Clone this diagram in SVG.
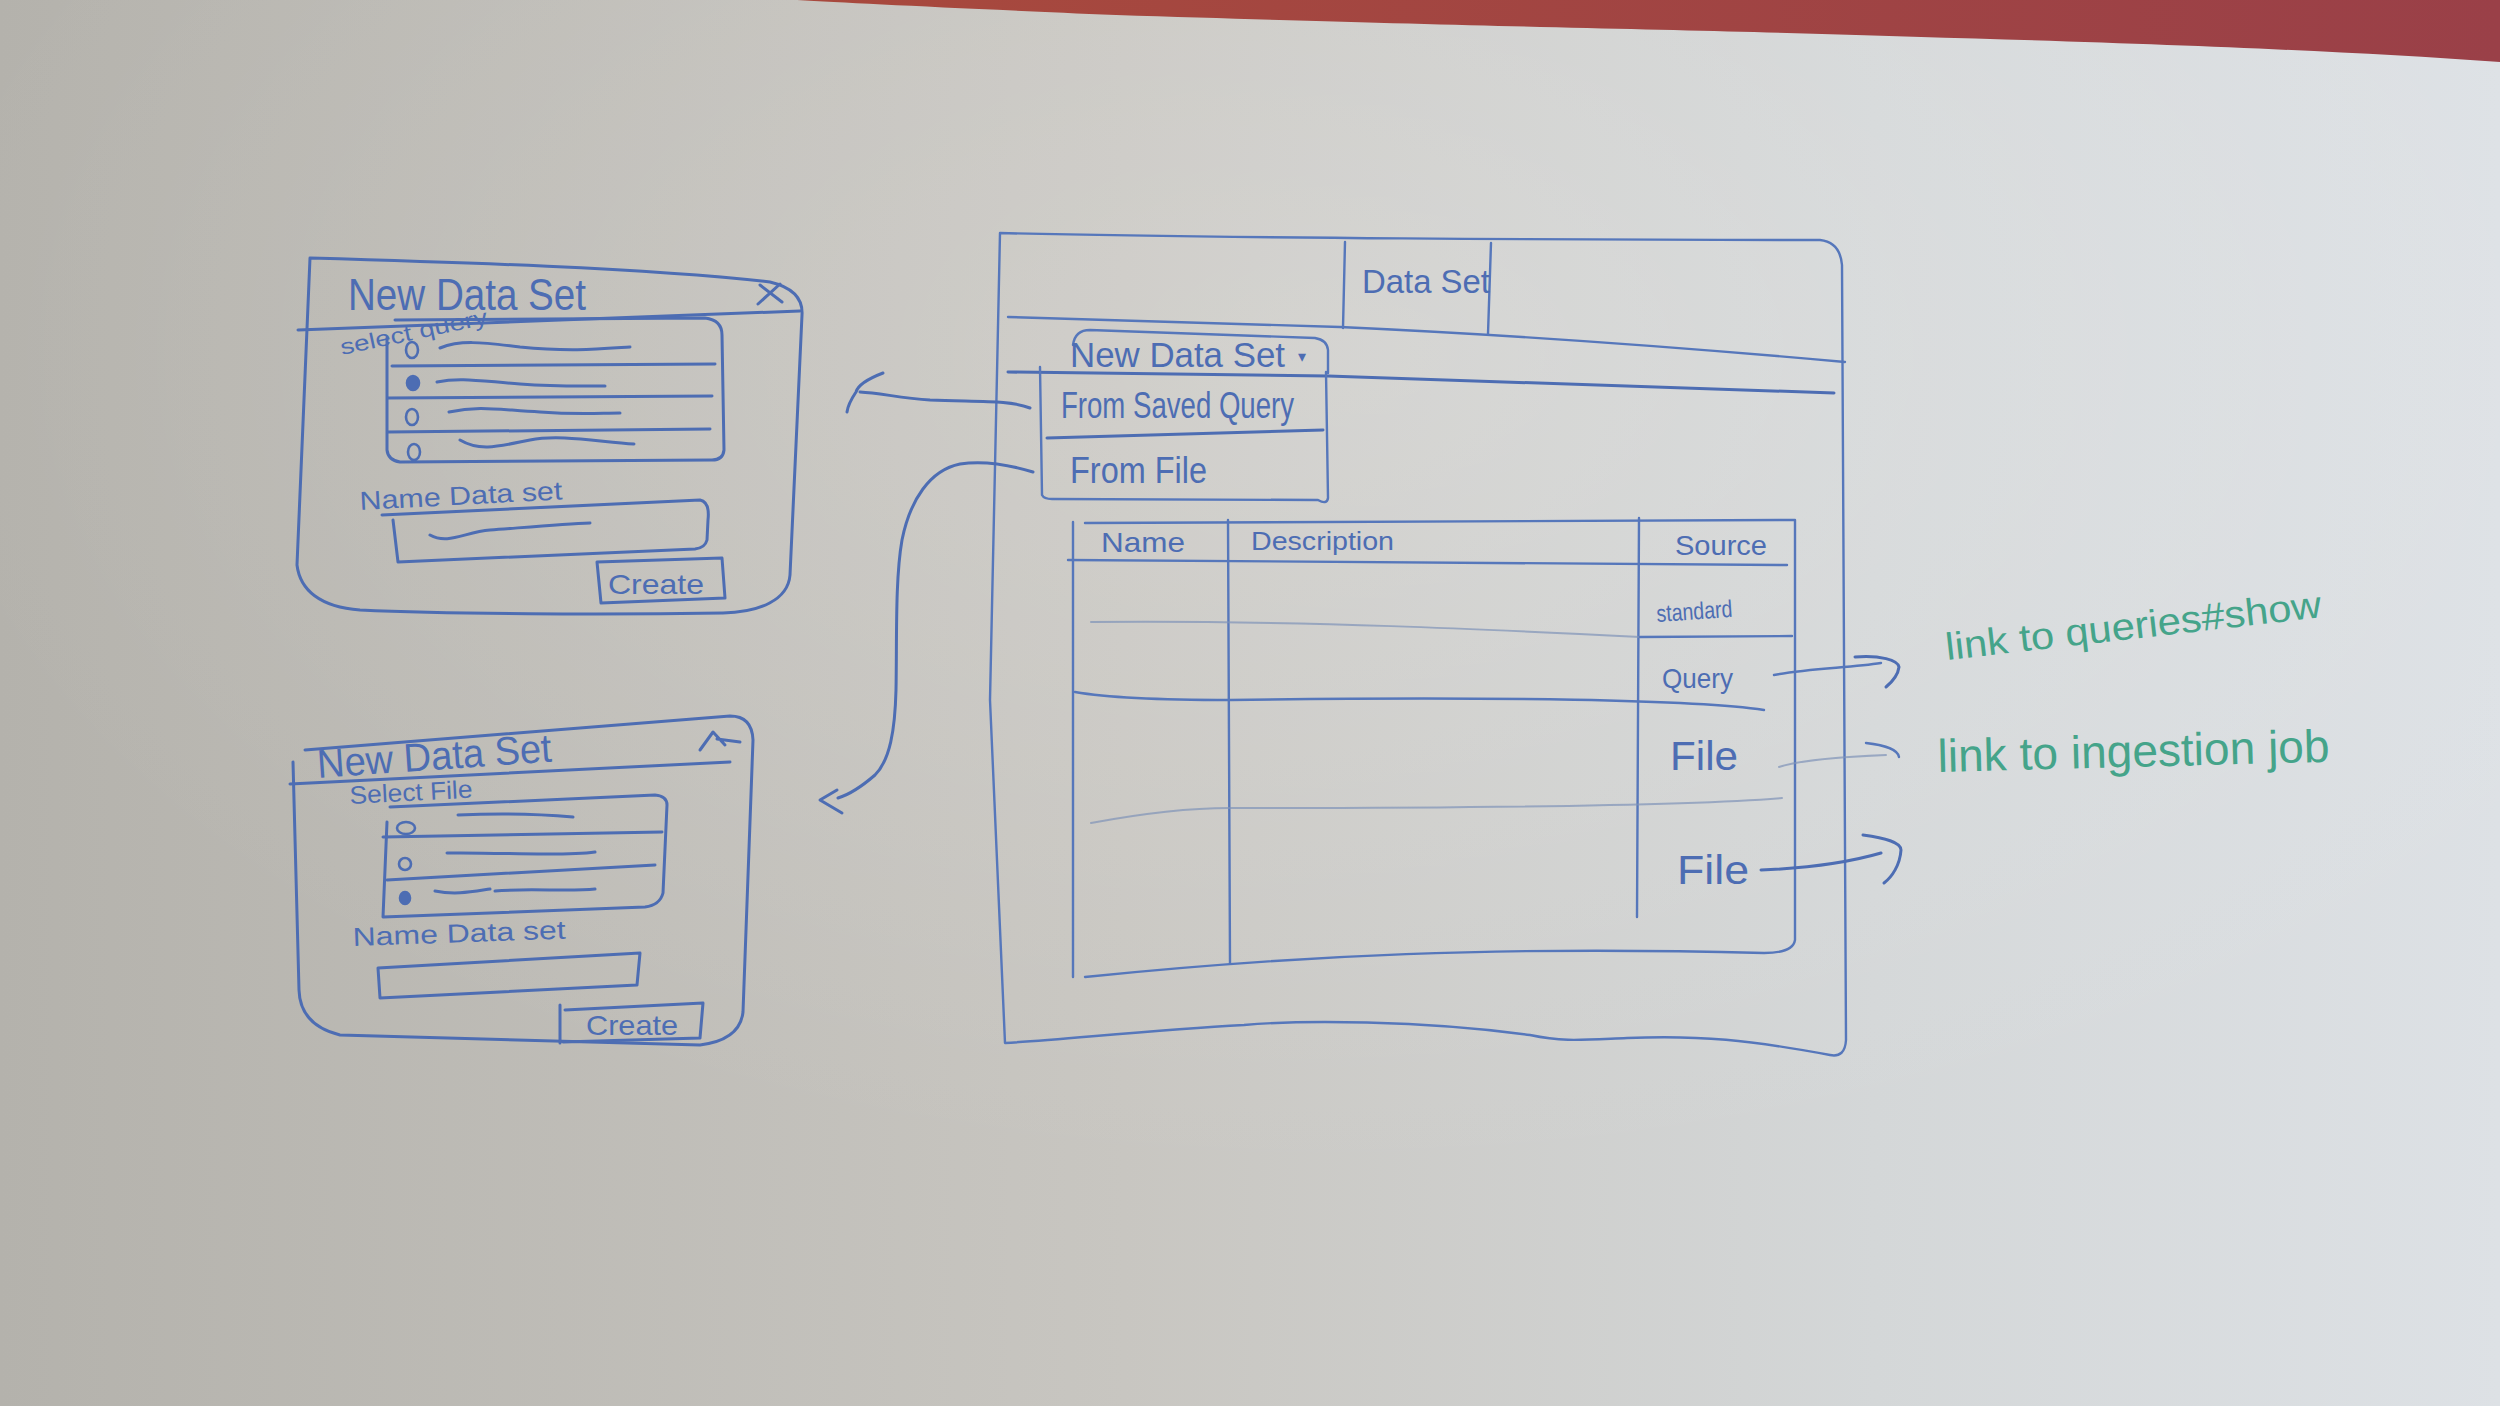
<svg xmlns="http://www.w3.org/2000/svg" width="2500" height="1406" viewBox="0 0 2500 1406">
<defs>
<linearGradient id="bg" x1="0" y1="0" x2="1" y2="0">
<stop offset="0" stop-color="#b4b2ac"/>
<stop offset="0.45" stop-color="#c8c6c1"/>
<stop offset="0.75" stop-color="#d4d7d8"/>
<stop offset="1" stop-color="#dde1e5"/>
</linearGradient>
<radialGradient id="hl" cx="0.55" cy="0.25" r="0.6">
<stop offset="0" stop-color="#ffffff" stop-opacity="0.18"/>
<stop offset="1" stop-color="#ffffff" stop-opacity="0"/>
</radialGradient>
<linearGradient id="red" x1="0" y1="0" x2="1" y2="0">
<stop offset="0" stop-color="#a8493d"/>
<stop offset="1" stop-color="#9a4048"/>
</linearGradient>
<style>
.ln{fill:none;stroke:#4d6db3;stroke-width:3;stroke-linecap:round;stroke-linejoin:round}
.thin{fill:none;stroke:#5677bb;stroke-width:2.4;stroke-linecap:round;stroke-linejoin:round}
.faint{fill:none;stroke:#7f93b8;stroke-width:2;stroke-linecap:round;opacity:0.7}
.t{font-family:"Liberation Sans","DejaVu Sans",sans-serif;fill:#4d6db3}
.g{font-family:"Liberation Sans","DejaVu Sans",sans-serif;fill:#45a48a}
.gl{fill:none;stroke:#45a48a;stroke-width:3;stroke-linecap:round}
.dot{fill:none;stroke:#4d6db3;stroke-width:2.6}
.dotf{fill:#4d6db3;stroke:#4d6db3;stroke-width:2.6}
</style>
</defs>
<rect x="0" y="0" width="2500" height="1406" fill="url(#bg)"/>
<rect x="0" y="0" width="2500" height="1406" fill="url(#hl)"/>
<path d="M797,0 L2500,0 L2500,62 C2300,48 2100,42 1754,32 C1600,28 1435,25 1116,15 C950,8 850,3 797,0 Z" fill="url(#red)"/>

<g id="dialog-query">
<path class="ln" d="M310,258 C450,262 650,268 770,282 C795,288 803,300 802,315 L790,575 C788,600 760,612 723,613 C600,615 450,614 360,610 C320,607 300,590 297,565 L310,258 Z"/>
<path class="ln" d="M298,330 L800,311"/>
<text class="t" x="348" y="310" font-size="44" textLength="238" lengthAdjust="spacingAndGlyphs">New Data Set</text>
<path class="ln" d="M760,285 L782,302 M780,284 L758,304"/>
<text class="t" x="342" y="355" font-size="22" textLength="150" lengthAdjust="spacingAndGlyphs" transform="rotate(-12 342 355)">select query</text>
<path class="ln" d="M395,320 L705,318 Q722,320 722,335 L724,450 Q723,460 712,460 L400,462 Q388,460 387,450 L387,338"/>
<path class="ln" d="M392,366 L715,364 M388,398 L712,396 M388,432 L710,429"/>
<ellipse class="dot" cx="412" cy="350" rx="6" ry="8"/>
<ellipse class="dotf" cx="413" cy="383" rx="6" ry="7"/>
<ellipse class="dot" cx="412" cy="417" rx="6" ry="8"/>
<ellipse class="dot" cx="414" cy="452" rx="6" ry="8"/>
<path class="ln" d="M440,348 C460,340 480,342 520,347 C570,352 600,349 630,347"/>
<path class="ln" d="M437,382 C460,377 480,381 520,384 C560,387 590,386 605,386"/>
<path class="ln" d="M449,412 C480,405 500,410 540,412 C580,415 600,413 620,413"/>
<path class="ln" d="M460,440 C480,452 500,446 530,440 C560,434 600,442 634,444"/>
<text class="t" x="360" y="510" font-size="26" textLength="203" lengthAdjust="spacingAndGlyphs" transform="rotate(-3 360 510)">Name Data set</text>
<path class="ln" d="M382,515 L700,500 Q710,502 708,520 L707,540 Q705,548 695,549 L398,562 L393,520"/>
<path class="ln" d="M430,535 C448,545 465,532 490,530 C530,527 565,524 590,523"/>
<path class="ln" d="M597,562 L722,558 L725,598 L601,603 Z"/>
<text class="t" x="608" y="594" font-size="28" textLength="96" lengthAdjust="spacingAndGlyphs">Create</text>
</g>

<g id="dialog-file">
<path class="ln" d="M305,750 L730,716 Q752,716 753,740 L743,1012 Q740,1040 700,1045 L340,1035 Q300,1025 299,990 L293,762"/>
<path class="ln" d="M290,784 L730,762"/>
<text class="t" x="318" y="778" font-size="40" textLength="235" lengthAdjust="spacingAndGlyphs" transform="rotate(-4 318 778)">New Data Set</text>
<path class="ln" d="M700,750 L713,732 L725,745 M717,739 L740,742"/>
<text class="t" x="350" y="804" font-size="25" textLength="123" lengthAdjust="spacingAndGlyphs" transform="rotate(-3 350 804)">Select File</text>
<path class="ln" d="M390,807 L655,795 Q667,796 667,805 L663,893 Q660,905 645,907 L383,917 L387,822"/>
<path class="ln" d="M383,837 L662,832 M387,880 L655,865"/>
<ellipse class="dot" cx="406" cy="828" rx="9" ry="6"/>
<ellipse class="dot" cx="405" cy="864" rx="6" ry="6"/>
<ellipse class="dotf" cx="405" cy="898" rx="5" ry="6"/>
<path class="ln" d="M458,815 C500,813 540,814 573,817"/>
<path class="ln" d="M447,853 C500,852 560,857 595,852"/>
<path class="ln" d="M435,891 C455,895 470,892 490,889 M495,891 C530,888 570,892 595,889"/>
<text class="t" x="353" y="946" font-size="26" textLength="213" lengthAdjust="spacingAndGlyphs" transform="rotate(-2 353 946)">Name Data set</text>
<path class="ln" d="M378,968 L640,953 L637,985 L380,998 Z"/>
<path class="ln" d="M560,1005 L560,1043 M565,1010 L703,1003 L700,1038 L563,1042"/>
<text class="t" x="586" y="1035" font-size="28" textLength="92" lengthAdjust="spacingAndGlyphs">Create</text>
</g>

<g id="main-window">
<path class="thin" d="M1000,233 C1200,238 1600,240 1820,240 Q1840,242 1842,265 L1846,1040 Q1845,1058 1830,1055 C1750,1040 1700,1035 1627,1038 C1580,1040 1563,1042 1530,1035 C1420,1020 1300,1020 1244,1025 C1150,1030 1060,1040 1005,1043 L990,700 L1000,233"/>
<path class="thin" d="M1008,317 L1340,327 C1450,332 1600,340 1845,362"/>
<path class="thin" d="M1345,242 L1343,328 M1491,243 L1488,334"/>
<text class="t" x="1362" y="293" font-size="34" textLength="128" lengthAdjust="spacingAndGlyphs">Data Set</text>
<path class="ln" d="M1008,372 L1328,376 L1834,393"/>
</g>

<g id="new-data-set-button">
<path class="thin" d="M1073,345 Q1075,330 1090,330 L1315,338 Q1327,340 1328,350 L1328,373"/>
<text class="t" x="1070" y="367" font-size="35" textLength="215" lengthAdjust="spacingAndGlyphs">New Data Set</text>
<text class="t" x="1298" y="362" font-size="16">▾</text>
</g>

<g id="dropdown-menu">
<path class="thin" d="M1040,367 L1042,495 Q1044,499 1052,499 L1318,500 Q1327,505 1328,498 L1326,372"/>
<path class="ln" d="M1047,438 L1323,430"/>
<text class="t" x="1061" y="418" font-size="36" textLength="233" lengthAdjust="spacingAndGlyphs">From Saved Query</text>
<text class="t" x="1070" y="483" font-size="36" textLength="137" lengthAdjust="spacingAndGlyphs">From File</text>
</g>

<g id="data-set-table">
<path class="thin" d="M1085,523 L1795,520 L1795,940 Q1793,953 1764,953 C1500,946 1300,955 1085,977"/>
<path class="thin" d="M1073,522 L1073,977"/>
<path class="thin" d="M1068,560 L1787,565"/>
<path class="thin" d="M1228,520 L1230,963 M1639,518 L1637,917"/>
<text class="t" x="1101" y="552" font-size="28" textLength="84" lengthAdjust="spacingAndGlyphs">Name</text>
<text class="t" x="1251" y="550" font-size="26" textLength="143" lengthAdjust="spacingAndGlyphs">Description</text>
<text class="t" x="1675" y="555" font-size="28" textLength="92" lengthAdjust="spacingAndGlyphs">Source</text>
<path class="faint" d="M1091,622 C1300,620 1500,630 1640,637"/>
<path class="thin" d="M1640,637 L1792,636"/>
<path class="thin" d="M1075,692 C1120,700 1200,700 1230,700 C1500,696 1700,700 1764,710"/>
<path class="faint" d="M1091,823 C1150,812 1200,808 1230,808 C1500,808 1700,805 1782,798"/>
<text class="t" x="1657" y="622" font-size="24" textLength="76" lengthAdjust="spacingAndGlyphs" transform="rotate(-4 1657 622)">standard</text>
<text class="t" x="1662" y="688" font-size="28" textLength="71" lengthAdjust="spacingAndGlyphs">Query</text>
<text class="t" x="1670" y="770" font-size="40" textLength="68" lengthAdjust="spacingAndGlyphs">File</text>
<text class="t" x="1677" y="884" font-size="40" textLength="72" lengthAdjust="spacingAndGlyphs">File</text>
</g>

<g id="annotation-query">
<text class="g" x="1947" y="660" font-size="38" textLength="378" lengthAdjust="spacingAndGlyphs" transform="rotate(-6.5 1947 660)">link to queries#show</text>
</g>
<g id="annotation-file">
<text class="g" x="1938" y="772" font-size="46" textLength="392" lengthAdjust="spacingAndGlyphs" transform="rotate(-1.5 1938 772)">link to ingestion job</text>
</g>

<g id="connectors">
<path class="ln" d="M1030,408 C1010,400 980,402 930,400 C900,398 880,393 860,392"/>
<path class="ln" d="M883,373 C870,378 858,385 856,392 C852,398 848,404 847,412"/>
<path class="ln" d="M1033,472 C1010,465 985,460 960,464 C930,470 910,500 902,540 C895,580 897,640 896,690 C895,730 890,760 875,775 C860,788 848,795 838,798"/>
<path class="ln" d="M837,790 L820,800 L842,813"/>
<path class="thin" d="M1774,675 C1810,668 1850,668 1881,663"/>
<path class="ln" d="M1855,657 C1880,655 1898,660 1899,667 C1898,675 1892,682 1886,687"/>
<path class="faint" d="M1779,767 C1800,760 1840,757 1886,755"/>
<path class="thin" d="M1866,743 C1885,745 1898,750 1899,757"/>
<path class="ln" d="M1761,870 C1810,868 1850,862 1881,853"/>
<path class="ln" d="M1863,835 C1885,838 1901,842 1901,850 C1900,865 1892,877 1884,883"/>
</g>
</svg>
